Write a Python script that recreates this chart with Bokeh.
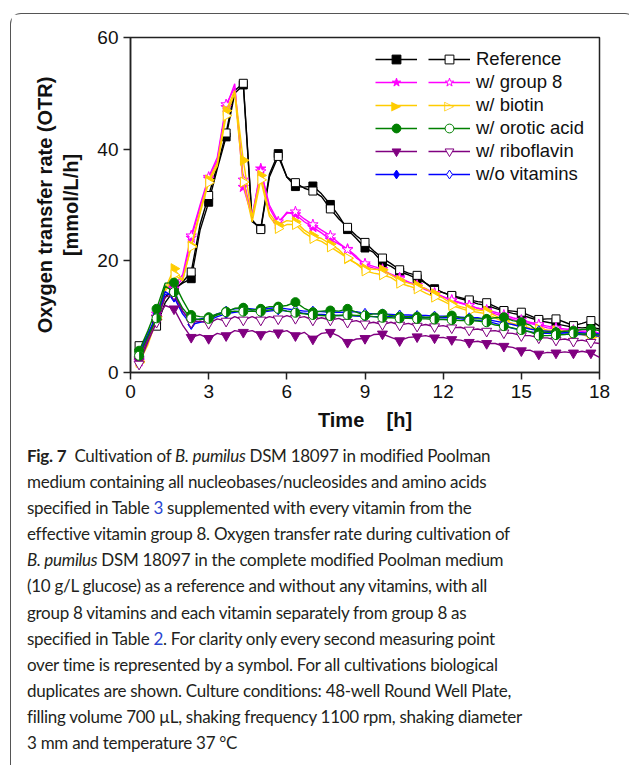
import numpy as np
from bokeh.plotting import figure
from bokeh.models import (FixedTicker, Legend, LegendItem, Div, Range1d,
                          ColumnDataSource, Label)
from bokeh.layouts import column
from bokeh.embed import file_html
from bokeh.resources import INLINE

# ---------------- data (OTR in mmol/L/h, every 20 min) ----------------
time_h = [0.33, 0.67, 1.0, 1.33, 1.67, 2.0, 2.33, 2.67, 3.0, 3.33, 3.67, 4.0, 4.33, 4.67,
          5.0, 5.33, 5.67, 6.0, 6.33, 6.67, 7.0, 7.33, 7.67, 8.0, 8.33, 8.67, 9.0, 9.33,
          9.67, 10.0, 10.33, 10.67, 11.0, 11.33, 11.67, 12.0, 12.33, 12.67, 13.0, 13.33,
          13.67, 14.0, 14.33, 14.67, 15.0, 15.33, 15.67, 16.0, 16.33, 16.67, 17.0, 17.33,
          17.67, 18.0]

ref_a = [3.5, 6.0, 9.5, 13.5, 15.0, 16.0, 16.8, 25.5, 30.5, 36.5, 42.2, 50.0, 51.5, 27.0,
         25.8, 35.5, 39.2, 35.0, 33.3, 33.2, 33.4, 32.0, 30.1, 28.0, 25.6, 24.0, 22.3, 21.5,
         19.7, 19.0, 18.0, 17.5, 16.8, 16.0, 15.0, 14.3, 13.7, 13.2, 12.8, 12.3, 12.0, 11.5,
         11.0, 10.6, 10.3, 9.8, 9.3, 9.0, 8.7, 8.4, 8.1, 8.0, 8.1, 7.8]
ref_b = [4.8, 6.5, 8.3, 12.5, 14.7, 16.2, 18.0, 26.5, 31.7, 37.0, 42.9, 50.5, 51.8, 27.3,
         25.6, 35.0, 38.7, 35.0, 34.0, 33.0, 32.5, 31.5, 29.3, 27.5, 26.0, 24.5, 23.3, 21.8,
         20.5, 19.5, 18.4, 17.8, 17.4, 16.0, 14.7, 14.3, 13.8, 13.4, 13.0, 12.7, 12.5, 11.8,
         11.1, 11.0, 10.8, 10.2, 9.5, 9.6, 9.6, 9.0, 8.4, 8.8, 9.3, 8.3]
g8_a = [2.5, 6.0, 10.5, 15.5, 15.0, 16.8, 24.1, 29.6, 34.7, 38.0, 47.5, 51.7, 33.2, 27.8,
        36.5, 29.5, 26.6, 28.7, 28.3, 27.0, 26.0, 25.0, 23.8, 23.0, 22.1, 20.8, 19.2, 18.7,
        18.2, 17.6, 17.0, 16.2, 15.6, 15.0, 14.2, 13.6, 12.9, 12.4, 12.0, 11.5, 11.0, 10.5,
        10.0, 9.5, 9.0, 8.8, 8.4, 8.0, 7.8, 7.5, 7.3, 7.2, 7.0, 6.8]
g8_b = [2.0, 5.5, 10.0, 15.0, 15.5, 17.5, 24.5, 30.0, 35.0, 38.5, 48.0, 51.0, 34.5, 28.0,
        36.0, 30.0, 27.0, 28.5, 28.8, 27.5, 26.5, 25.5, 24.5, 23.2, 22.0, 20.5, 19.5, 19.0,
        18.5, 17.5, 16.8, 16.2, 15.6, 14.8, 14.2, 13.5, 13.0, 12.5, 12.0, 11.5, 11.2, 10.8,
        10.3, 9.8, 9.4, 9.0, 8.6, 8.3, 8.0, 7.8, 7.6, 7.4, 7.5, 7.0]
bio_a = [2.0, 5.5, 10.0, 15.0, 18.6, 16.5, 22.7, 29.0, 34.5, 37.5, 46.9, 50.5, 38.0, 27.8,
         35.3, 28.5, 26.4, 27.2, 27.0, 25.5, 24.5, 24.0, 23.0, 22.0, 20.4, 19.5, 18.6, 18.5,
         18.4, 17.5, 16.5, 16.0, 15.6, 15.0, 14.1, 13.3, 12.3, 11.8, 11.4, 11.2, 11.0, 10.2,
         9.3, 8.8, 8.4, 8.0, 7.8, 7.6, 7.5, 7.4, 7.2, 6.8, 6.3, 6.5]
bio_b = [1.8, 5.0, 9.5, 14.5, 17.5, 16.5, 22.5, 28.5, 34.0, 37.0, 46.0, 50.0, 34.1, 27.0,
         34.5, 28.0, 25.8, 26.5, 26.5, 25.0, 24.0, 23.5, 22.5, 21.5, 20.5, 19.5, 18.2, 17.8,
         17.5, 17.0, 16.0, 15.5, 15.0, 14.2, 13.5, 12.8, 12.0, 11.5, 11.0, 10.8, 10.5, 9.8,
         9.0, 8.6, 8.2, 7.9, 7.7, 7.5, 7.3, 7.2, 7.0, 6.8, 6.6, 6.4]
oro_a = [3.9, 7.5, 11.4, 16.0, 16.1, 13.0, 10.3, 10.0, 9.9, 10.5, 10.9, 11.5, 11.6, 11.2,
         11.4, 11.8, 11.8, 12.0, 12.6, 11.5, 10.8, 11.0, 11.1, 11.0, 11.4, 10.8, 10.2, 10.5,
         10.5, 10.2, 10.0, 10.0, 10.0, 9.9, 9.9, 10.0, 10.2, 9.8, 9.6, 9.6, 9.6, 9.8,
         9.9, 9.3, 9.0, 8.5, 7.2, 7.2, 7.2, 7.4, 7.5, 7.7, 7.8, 7.5]
oro_b = [3.0, 6.5, 9.7, 15.5, 14.4, 11.5, 9.7, 9.5, 9.6, 10.3, 10.8, 11.0, 10.9, 11.0,
         10.9, 11.2, 11.4, 11.0, 10.7, 10.5, 10.3, 10.2, 10.1, 10.2, 10.3, 10.2, 10.2, 10.0,
         9.8, 9.8, 9.7, 9.7, 9.6, 9.6, 9.5, 9.5, 9.4, 9.3, 9.3, 9.2, 9.0, 8.5,
         8.3, 8.0, 7.6, 7.3, 6.6, 6.6, 6.7, 6.8, 7.0, 6.9, 6.9, 6.7]
ribo_a = [2.1, 6.0, 9.7, 12.0, 11.4, 8.5, 6.3, 6.8, 6.1, 7.0, 6.6, 7.5, 7.2, 7.5,
          6.8, 7.4, 7.1, 7.5, 6.6, 7.2, 6.0, 7.0, 7.2, 6.5, 5.4, 6.0, 6.1, 6.8,
          6.9, 6.3, 5.7, 6.3, 6.4, 6.6, 6.2, 6.3, 5.9, 5.8, 5.4, 5.6, 5.2, 5.2,
          4.7, 4.5, 3.9, 4.0, 3.3, 3.6, 3.5, 3.7, 3.5, 3.8, 3.5, 2.7]
ribo_b = [1.5, 5.5, 9.0, 13.5, 14.0, 11.0, 9.0, 9.2, 8.8, 9.6, 9.2, 10.0, 9.4, 10.0,
          9.4, 10.0, 9.6, 10.2, 9.7, 10.0, 9.4, 9.8, 9.4, 9.7, 9.0, 9.3, 8.7, 9.0,
          8.6, 9.0, 8.5, 8.8, 8.3, 8.6, 8.2, 8.4, 8.0, 8.1, 7.6, 7.8, 7.4, 7.5,
          7.1, 7.0, 6.6, 6.6, 6.2, 6.2, 5.8, 6.0, 5.6, 5.8, 5.4, 5.2]
wov_a = [3.0, 6.5, 10.5, 14.5, 13.5, 10.5, 8.6, 9.0, 9.3, 10.0, 10.5, 10.8, 11.0, 11.0,
         10.8, 11.0, 11.2, 11.0, 10.9, 10.6, 10.4, 10.4, 10.3, 10.2, 10.2, 10.1, 10.0, 10.0,
         10.0, 10.0, 9.9, 9.9, 9.9, 9.8, 9.8, 9.8, 9.8, 9.6, 9.4, 9.3, 9.2, 8.8,
         8.4, 7.9, 7.6, 7.3, 7.0, 7.0, 7.0, 6.9, 6.8, 6.8, 6.7, 6.5]
wov_b = [3.5, 7.0, 10.0, 14.0, 14.2, 11.0, 9.2, 9.6, 9.8, 10.5, 11.0, 11.4, 11.5, 11.4,
         11.2, 11.5, 11.6, 11.4, 11.2, 11.0, 11.0, 10.9, 10.8, 10.8, 10.8, 10.9, 10.6, 10.5,
         10.5, 10.4, 10.3, 10.3, 10.2, 10.2, 10.1, 10.1, 10.0, 9.9, 9.8, 9.8, 9.5, 9.2,
         8.9, 8.6, 8.2, 7.8, 7.5, 7.4, 7.3, 7.2, 7.2, 7.1, 7.0, 6.9]

x_ticks = [0, 3, 6, 9, 12, 15, 18]
y_ticks = [0, 20, 40, 60]

series_labels = ["Reference", "w/ group 8", "w/ biotin", "w/ orotic acid",
                 "w/ riboflavin", "w/o vitamins"]
series_colors = ["#000000", "#FF00FF", "#FFCC00", "#008000", "#800080", "#0000FF"]
series_markers = ["square", "star", "triangle", "circle", "inverted_triangle", "diamond"]
series_angles = [0.0, 0.0, -90.0, 0.0, 0.0, 0.0]
series_sizes = [8, 11, 10, 9, 10, 10]
series_a = [ref_a, g8_a, bio_a, oro_a, ribo_a, wov_a]
series_b = [ref_b, g8_b, bio_b, oro_b, ribo_b, wov_b]

FONT = "Liberation Sans"
AXC = "#222222"

p = figure(width=614, height=427, output_backend="svg", toolbar_location=None,
           x_range=Range1d(0, 18), y_range=Range1d(0, 60),
           min_border_left=119, min_border_right=26, min_border_top=23,
           min_border_bottom=69)
p.background_fill_color = "white"
p.border_fill_color = "white"
p.grid.visible = False
p.outline_line_color = AXC
p.outline_line_width = 1.5

for ax in (p.xaxis[0], p.yaxis[0]):
    ax.axis_line_color = AXC
    ax.axis_line_width = 1.5
    ax.major_tick_line_color = AXC
    ax.major_tick_line_width = 1.5
    ax.major_tick_in = 0
    ax.major_tick_out = 7
    ax.minor_tick_line_color = None
    ax.major_label_text_font = FONT
    ax.major_label_text_font_size = "19px"
    ax.major_label_text_color = "#111111"
    ax.major_label_standoff = 5
    ax.axis_label_text_font = FONT
    ax.axis_label_text_font_size = "20px"
    ax.axis_label_text_font_style = "bold"
    ax.axis_label_text_color = "#111111"

p.xaxis.ticker = FixedTicker(ticks=x_ticks)
p.yaxis.ticker = FixedTicker(ticks=y_ticks)
p.xaxis.axis_label = "Time\u00a0\u00a0\u00a0\u00a0[h]"
p.yaxis.axis_label = "Oxygen transfer rate (OTR)\n[mmol/L/h]"
p.xaxis.axis_label_standoff = 8
p.yaxis.axis_label_standoff = 12

draw_order = [0, 1, 2, 5, 4, 3]
rend = {}
for k in draw_order:
    col = series_colors[k]
    mk = series_markers[k]
    xs = time_h[::2]
    src_a = ColumnDataSource(dict(x=xs, y=series_a[k][::2], ang=[series_angles[k]] * len(xs)))
    src_b = ColumnDataSource(dict(x=xs, y=series_b[k][::2], ang=[series_angles[k]] * len(xs)))
    la = p.line(time_h, series_a[k], line_color=col, line_width=1.4)
    sa = p.scatter("x", "y", source=src_a, marker=mk, size=series_sizes[k],
                   angle="ang", angle_units="deg",
                   fill_color=col, line_color=col, line_width=1)
    lb = p.line(time_h, series_b[k], line_color=col, line_width=1.4)
    sb = p.scatter("x", "y", source=src_b, marker=mk, size=series_sizes[k],
                   angle="ang", angle_units="deg",
                   fill_color="white", line_color=col, line_width=1)
    if mk == "circle":
        p.wedge("x", "y", source=src_b, radius=series_sizes[k] / 2,
                radius_units="screen", start_angle=-np.pi / 2, end_angle=np.pi / 2,
                fill_color=col, line_color=None)
    rend[k] = (la, sa, lb, sb)

# legend: two sample columns (duplicate A filled, duplicate B open) + label
items_a, items_b = [], []
for k in range(6):
    la, sa, lb, sb = rend[k]
    if series_angles[k] != 0.0:
        # Bokeh draws legend markers unrotated; rotated symbol is added below
        items_a.append(LegendItem(label=" ", renderers=[la]))
        items_b.append(LegendItem(label=series_labels[k], renderers=[lb]))
    else:
        items_a.append(LegendItem(label=" ", renderers=[la, sa]))
        items_b.append(LegendItem(label=series_labels[k], renderers=[lb, sb]))

LEG_X_A, LEG_X_B, LEG_Y = 245, 298, 187
GW, GH, SP = 42, 22, 1
common = dict(glyph_width=GW, glyph_height=GH, label_height=GH, spacing=SP,
              padding=0, margin=0, border_line_color=None, background_fill_alpha=0,
              label_text_font=FONT, label_text_font_size="18.5px",
              label_text_color="#111111")
leg_a = Legend(items=items_a, location=(LEG_X_A, LEG_Y), label_standoff=0, **common)
leg_b = Legend(items=items_b, location=(LEG_X_B, LEG_Y), label_standoff=6, **common)
p.add_layout(leg_a, "center")
p.add_layout(leg_b, "center")

# right-pointing triangle symbols for the biotin legend row
n_items = len(series_labels)
leg_h = n_items * GH + (n_items - 1) * SP
for k in range(n_items):
    if series_angles[k] == 0.0:
        continue
    row_cy = LEG_Y + leg_h - (k * (GH + SP) + GH / 2)
    col = series_colors[k]
    for lx, glyphs in ((LEG_X_A + GW / 2, [("\u25B6", col)]),
                       (LEG_X_B + GW / 2, [("\u25B6", "white"), ("\u25B7", col)])):
        for ch, c in glyphs:
            p.add_layout(Label(x=lx, y=row_cy, x_units="screen", y_units="screen",
                               text=ch, text_color=c, text_font="DejaVu Sans",
                               text_font_size="13px", text_align="center",
                               text_baseline="middle"))

caption_html = (
    '<div style="padding-left:11px; margin-top:-3px; font-family:Lato; font-size:17px; '
    'letter-spacing:-0.28px; line-height:26.1px; color:#231f20; white-space:nowrap;">'
    '<b>Fig. 7</b>&nbsp;&nbsp;Cultivation of <i>B. pumilus</i> DSM 18097 in modified Poolman<br>'
    'medium containing all nucleobases/nucleosides and amino acids<br>'
    'specified in Table <span style="color:#2b45d0">3</span> supplemented with every vitamin from the<br>'
    'effective vitamin group 8. Oxygen transfer rate during cultivation of<br>'
    '<i>B. pumilus</i> DSM 18097 in the complete modified Poolman medium<br>'
    '(10 g/L glucose) as a reference and without any vitamins, with all<br>'
    'group 8 vitamins and each vitamin separately from group 8 as<br>'
    'specified in Table <span style="color:#2b45d0">2</span>. For clarity only every second measuring point<br>'
    'over time is represented by a symbol. For all cultivations biological<br>'
    'duplicates are shown. Culture conditions: 48-well Round Well Plate,<br>'
    'filling volume 700 \u00b5L, shaking frequency 1100 rpm, shaking diameter<br>'
    '3 mm and temperature 37 \u00b0C'
    '</div>'
)
cap = Div(text=caption_html, width=614, height=322)

root = column(p, cap, margin=(13, 0, 0, 10), spacing=0,
              styles={"border": "1px solid #555555", "border-bottom": "none",
                      "border-radius": "11px 11px 0 0"})

open("out.html", "w").write(file_html(root, INLINE))
